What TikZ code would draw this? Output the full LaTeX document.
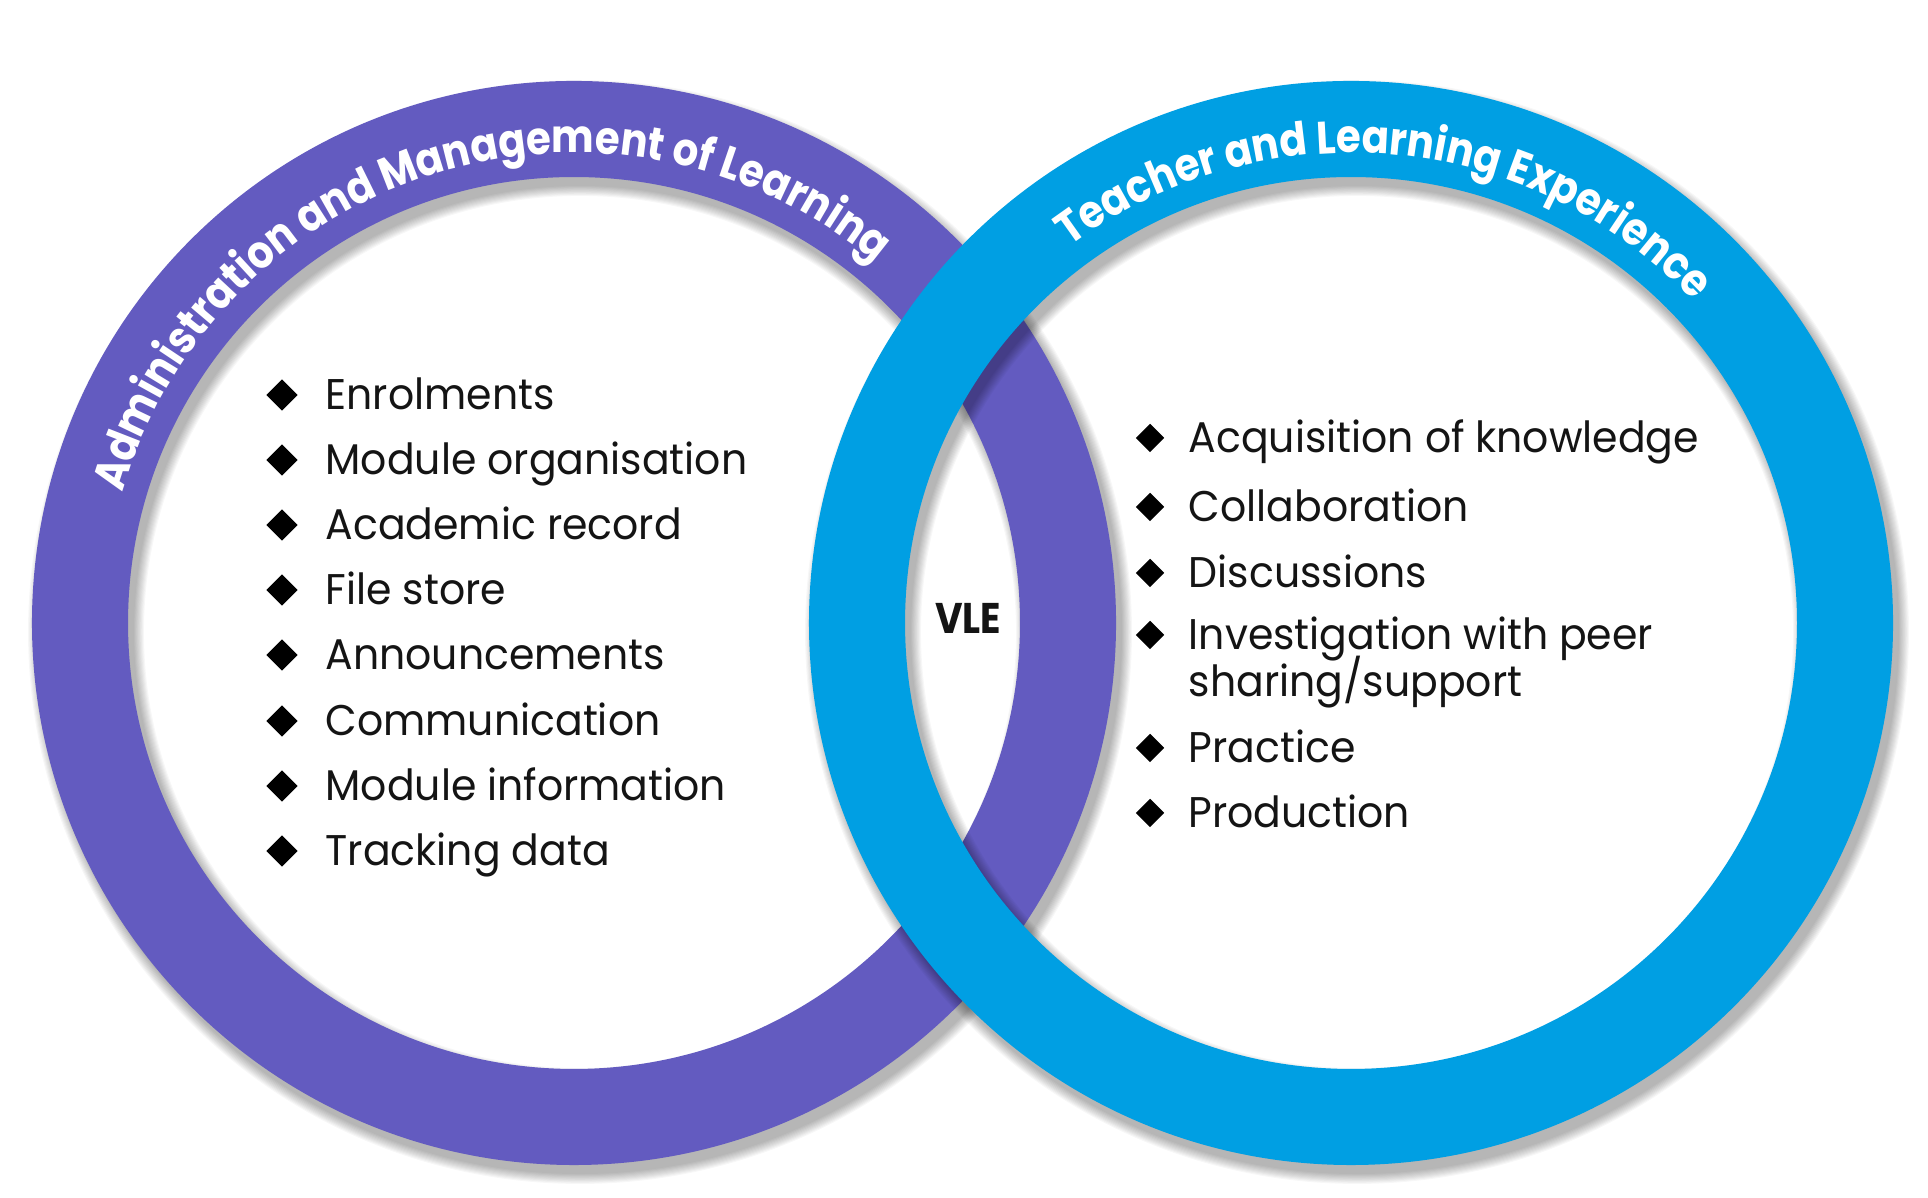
\documentclass[tikz,border=0pt]{standalone}
\usepackage{fontspec}
\setmainfont{Poppins}
\newfontfamily\listfont{Poppins}[FakeStretch=0.955]
\newfontfamily\titlefont{Poppins}[FakeStretch=0.88]
\usetikzlibrary{calc,shapes.geometric,decorations.text}
\definecolor{ringpurple}{RGB}{99,91,192}
\definecolor{ringblue}{RGB}{0,159,227}
\definecolor{txt}{RGB}{20,20,20}
\begin{document}
\begin{tikzpicture}[x=0.01cm,y=0.01cm,
  ringband/.style={line width=0.96cm},
  ringshadow/.style={black, opacity=0.03},
  item/.style={anchor=base west, inner sep=0pt, font=\listfont\fontsize{12.2pt}{13.4pt}\selectfont, text=txt},
  bulletL/.style={diamond, fill=black, inner sep=0pt, minimum width=0.32cm, minimum height=0.32cm},
  bulletR/.style={diamond, fill=black, inner sep=0pt, minimum width=0.29cm, minimum height=0.29cm},
  vle/.style={inner sep=0pt, font=\titlefont\bfseries\fontsize{12.2pt}{14pt}\selectfont, text=txt}]
\useasboundingbox[fill=white] (0,0) rectangle (1928,1198);
\coordinate (cL) at (574,575);
\coordinate (cR) at (1351,575);
% purple ring with shadow
\foreach \i in {0,...,9}
  \draw[ringshadow, line width={0.96cm+0.022cm*\i}] ($(cL)+(6,-9)$) circle[radius=494];
\draw[ringband, ringpurple] (cL) circle[radius=494];
% blue ring with shadow
\foreach \i in {0,...,9}
  \draw[ringshadow, line width={0.96cm+0.022cm*\i}] ($(cR)+(6,-9)$) circle[radius=494];
\draw[ringband, ringblue] (cR) circle[radius=494];
% titles along rings
\path[decoration={text along path, text align=center,
  text={|\titlefont\bfseries\fontsize{13pt}{15pt}\selectfont\color{white}|Administration and Management of Learning}}, decorate]
  ($(cL)+(177:470)$) arc[start angle=177, end angle=37, radius=470];
\path[decoration={text along path, text align=center,
  text={|\titlefont\bfseries\fontsize{13pt}{15pt}\selectfont\color{white}|Teacher and Learning Experience}}, decorate]
  ($(cR)+(155:470)$) arc[start angle=155, end angle=15, radius=470];
% left list
\node[item] (l1) at (325,788) {Enrolments};
\node[item] (l2) at (325,723) {Module organisation};
\node[item] (l3) at (325,658) {Academic record};
\node[item] (l4) at (325,593) {File store};
\node[item] (l5) at (325,528) {Announcements};
\node[item] (l6) at (325,462) {Communication};
\node[item] (l7) at (325,397) {Module information};
\node[item] (l8) at (325,332) {Tracking data};
\foreach \y [count=\k] in {803,738,673,608,543,477,412,347}
  \node[bulletL] (bl\k) at (282,\y) {};
% right list
\node[item] (r1) at (1188,745) {Acquisition of knowledge};
\node[item] (r2) at (1188,676) {Collaboration};
\node[item] (r3) at (1188,610) {Discussions};
\node[item] (r4) at (1188,548) {Investigation with peer};
\node[item] (r4b) at (1188,501) {sharing/support};
\node[item] (r5) at (1188,435) {Practice};
\node[item] (r6) at (1188,370) {Production};
\foreach \y [count=\k] in {760,691,625,563,450,385}
  \node[bulletR] (br\k) at (1150,\y) {};
% centre label
\node[vle] (vle) at (968,579.5) {VLE};
\end{tikzpicture}
\end{document}
